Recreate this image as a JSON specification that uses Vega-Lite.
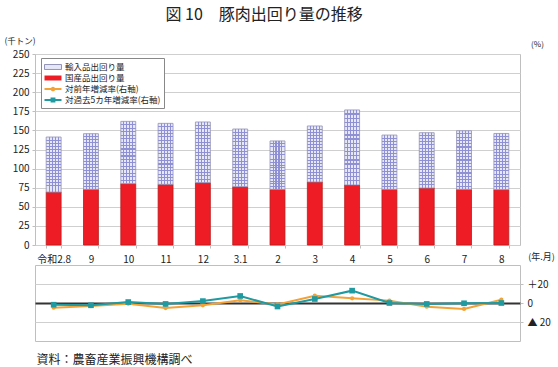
{
  "$schema": "https://vega.github.io/schema/vega-lite/v6.json",
  "padding": {"left": 3, "top": 6, "right": 5, "bottom": 5},
  "background": "white",
  "config": {
    "font": "Noto Sans CJK JP",
    "view": {"stroke": "#bfbfbf"},
    "axis": {"domain": false, "gridColor": "#cfcfcf", "tickColor": "#bfbfbf", "labelColor": "#222", "titleColor": "#222", "titleFontWeight": "normal", "labelFont": "Noto Sans CJK JP", "titleFont": "Noto Sans CJK JP"}
  },
  "title": {"text": "図 10　豚肉出回り量の推移", "fontSize": 16, "fontWeight": "normal", "color": "#222", "anchor": "middle", "dx": -15, "offset": 13},
  "datasets": {
    "bars": [
      {"month": "令和2.8", "series": "国産品出回り量", "value": 69.3},
      {"month": "令和2.8", "series": "輸入品出回り量", "value": 72.0},
      {"month": "9", "series": "国産品出回り量", "value": 72.9},
      {"month": "9", "series": "輸入品出回り量", "value": 72.8},
      {"month": "10", "series": "国産品出回り量", "value": 80.3},
      {"month": "10", "series": "輸入品出回り量", "value": 81.5},
      {"month": "11", "series": "国産品出回り量", "value": 79.4},
      {"month": "11", "series": "輸入品出回り量", "value": 79.8},
      {"month": "12", "series": "国産品出回り量", "value": 81.6},
      {"month": "12", "series": "輸入品出回り量", "value": 79.4},
      {"month": "3.1", "series": "国産品出回り量", "value": 76.3},
      {"month": "3.1", "series": "輸入品出回り量", "value": 75.5},
      {"month": "2", "series": "国産品出回り量", "value": 72.9},
      {"month": "2", "series": "輸入品出回り量", "value": 63.3},
      {"month": "3", "series": "国産品出回り量", "value": 82.5},
      {"month": "3", "series": "輸入品出回り量", "value": 73.3},
      {"month": "4", "series": "国産品出回り量", "value": 78.6},
      {"month": "4", "series": "輸入品出回り量", "value": 98.2},
      {"month": "5", "series": "国産品出回り量", "value": 72.9},
      {"month": "5", "series": "輸入品出回り量", "value": 71.0},
      {"month": "6", "series": "国産品出回り量", "value": 74.6},
      {"month": "6", "series": "輸入品出回り量", "value": 72.4},
      {"month": "7", "series": "国産品出回り量", "value": 72.9},
      {"month": "7", "series": "輸入品出回り量", "value": 76.7},
      {"month": "8", "series": "国産品出回り量", "value": 72.5},
      {"month": "8", "series": "輸入品出回り量", "value": 73.5}
    ],
    "rates": [
      {"month": "令和2.8", "yoy": -4.9, "five": -1.8},
      {"month": "9", "yoy": -3.2, "five": -2.4},
      {"month": "10", "yoy": -0.7, "five": 1.0},
      {"month": "11", "yoy": -5.3, "five": -1.0},
      {"month": "12", "yoy": -2.4, "five": 2.0},
      {"month": "3.1", "yoy": 2.8, "five": 7.4},
      {"month": "2", "yoy": -1.5, "five": -3.7},
      {"month": "3", "yoy": 7.7, "five": 4.2},
      {"month": "4", "yoy": 4.9, "five": 13.0},
      {"month": "5", "yoy": 2.5, "five": 0.0},
      {"month": "6", "yoy": -3.9, "five": -1.0},
      {"month": "7", "yoy": -6.3, "five": -0.3},
      {"month": "8", "yoy": 3.5, "five": 0.0}
    ]
  },
  "bounds": "flush",
  "spacing": 20,
  "resolve": {"scale": {"x": "independent", "color": "independent", "shape": "independent"}, "legend": {"color": "independent", "shape": "independent"}},
  "vconcat": [
    {
      "width": 485,
      "height": 191,
      "data": {"name": "bars"},
      "encoding": {
        "x": {"field": "month", "type": "ordinal", "sort": null, "scale": {"paddingInner": 0.6, "paddingOuter": 0.3},
          "axis": {"title": "(年.月)", "titleX": 506, "titleY": 11, "titleAlign": "center", "titleBaseline": "middle", "titleFontSize": 9, "labelAngle": 0, "labelFontSize": 10, "labelPadding": 6, "tickSize": 3, "tickBand": "extent", "grid": false}},
        "y": {"field": "value", "type": "quantitative", "stack": "zero", "scale": {"domain": [0, 250], "nice": false},
          "axis": {"values": [0, 25, 50, 75, 100, 125, 150, 175, 200, 225, 250], "title": "(千トン)", "titleAngle": 0, "titleX": -31, "titleY": -14, "titleAlign": "left", "titleBaseline": "middle", "titleFontSize": 8.5, "labelFontSize": 10, "tickSize": 3, "labelPadding": 3}}
      },
      "layer": [
        {
          "mark": {"type": "bar", "strokeWidth": 0.8},
          "encoding": {
            "color": {"field": "series", "type": "nominal",
              "scale": {"domain": ["輸入品出回り量", "国産品出回り量", "対前年増減率(右軸)", "対過去5カ年増減率(右軸)"], "range": ["#e6e7f7", "#ee1c24", "#f4a236", "#1e9aa0"]},
              "legend": {"orient": "none", "legendX": 6, "legendY": 4, "title": null, "padding": 3, "strokeColor": "#888", "fillColor": "white", "symbolSize": 121, "labelFontSize": 8.5, "labelOffset": 9, "rowPadding": 0, "labelColor": "#222", "labelFont": "Noto Sans CJK JP", "symbolStrokeWidth": 0.8,
                "encode": {"symbols": {"update": {"opacity": {"value": 1}, "stroke": {"signal": "datum.value === '輸入品出回り量' ? '#7a7aa6' : 'transparent'"}}}}}},
            "order": {"field": "series", "sort": "ascending"},
            "stroke": {"condition": {"test": "datum.series === '輸入品出回り量'", "value": "#9090b0"}, "value": "#b81c1c"}
          }
        },
        {
          "mark": {"type": "bar", "strokeWidth": 0},
          "encoding": {
            "detail": {"field": "series"},
            "order": {"field": "series", "sort": "ascending"},
            "fill": {"condition": {"test": "datum.series === '輸入品出回り量'", "value": {"gradient": "linear", "x1": 0, "y1": 0, "x2": 1, "y2": 0, "stops": [
              {"offset": 0, "color": "rgba(143,143,214,0)"},
              {"offset": 0.165, "color": "rgba(143,143,214,0)"}, {"offset": 0.165, "color": "#8f8fd6"}, {"offset": 0.235, "color": "#8f8fd6"}, {"offset": 0.235, "color": "rgba(143,143,214,0)"},
              {"offset": 0.365, "color": "rgba(143,143,214,0)"}, {"offset": 0.365, "color": "#8f8fd6"}, {"offset": 0.435, "color": "#8f8fd6"}, {"offset": 0.435, "color": "rgba(143,143,214,0)"},
              {"offset": 0.565, "color": "rgba(143,143,214,0)"}, {"offset": 0.565, "color": "#8f8fd6"}, {"offset": 0.635, "color": "#8f8fd6"}, {"offset": 0.635, "color": "rgba(143,143,214,0)"},
              {"offset": 0.765, "color": "rgba(143,143,214,0)"}, {"offset": 0.765, "color": "#8f8fd6"}, {"offset": 0.835, "color": "#8f8fd6"}, {"offset": 0.835, "color": "rgba(143,143,214,0)"},
              {"offset": 1, "color": "rgba(143,143,214,0)"}]}}, "value": "rgba(0,0,0,0)"}
          }
        },
        {
          "mark": {"type": "bar", "strokeWidth": 0},
          "encoding": {
            "detail": {"field": "series"},
            "order": {"field": "series", "sort": "ascending"},
            "fill": {"condition": {"test": "datum.series === '輸入品出回り量'", "value": {"gradient": "linear", "x1": 0, "y1": 0, "x2": 0, "y2": 1, "stops": [
              {"offset": 0, "color": "rgba(143,143,214,0)"},
              {"offset": 0.0466, "color": "rgba(143,143,214,0)"}, {"offset": 0.0466, "color": "#8f8fd6"}, {"offset": 0.0646, "color": "#8f8fd6"}, {"offset": 0.0646, "color": "rgba(143,143,214,0)"},
              {"offset": 0.1021, "color": "rgba(143,143,214,0)"}, {"offset": 0.1021, "color": "#8f8fd6"}, {"offset": 0.1201, "color": "#8f8fd6"}, {"offset": 0.1201, "color": "rgba(143,143,214,0)"},
              {"offset": 0.1577, "color": "rgba(143,143,214,0)"}, {"offset": 0.1577, "color": "#8f8fd6"}, {"offset": 0.1757, "color": "#8f8fd6"}, {"offset": 0.1757, "color": "rgba(143,143,214,0)"},
              {"offset": 0.2132, "color": "rgba(143,143,214,0)"}, {"offset": 0.2132, "color": "#8f8fd6"}, {"offset": 0.2312, "color": "#8f8fd6"}, {"offset": 0.2312, "color": "rgba(143,143,214,0)"},
              {"offset": 0.2688, "color": "rgba(143,143,214,0)"}, {"offset": 0.2688, "color": "#8f8fd6"}, {"offset": 0.2868, "color": "#8f8fd6"}, {"offset": 0.2868, "color": "rgba(143,143,214,0)"},
              {"offset": 0.3243, "color": "rgba(143,143,214,0)"}, {"offset": 0.3243, "color": "#8f8fd6"}, {"offset": 0.3423, "color": "#8f8fd6"}, {"offset": 0.3423, "color": "rgba(143,143,214,0)"},
              {"offset": 0.3799, "color": "rgba(143,143,214,0)"}, {"offset": 0.3799, "color": "#8f8fd6"}, {"offset": 0.3979, "color": "#8f8fd6"}, {"offset": 0.3979, "color": "rgba(143,143,214,0)"},
              {"offset": 0.4354, "color": "rgba(143,143,214,0)"}, {"offset": 0.4354, "color": "#8f8fd6"}, {"offset": 0.4534, "color": "#8f8fd6"}, {"offset": 0.4534, "color": "rgba(143,143,214,0)"},
              {"offset": 0.491, "color": "rgba(143,143,214,0)"}, {"offset": 0.491, "color": "#8f8fd6"}, {"offset": 0.509, "color": "#8f8fd6"}, {"offset": 0.509, "color": "rgba(143,143,214,0)"},
              {"offset": 0.5466, "color": "rgba(143,143,214,0)"}, {"offset": 0.5466, "color": "#8f8fd6"}, {"offset": 0.5646, "color": "#8f8fd6"}, {"offset": 0.5646, "color": "rgba(143,143,214,0)"},
              {"offset": 0.6021, "color": "rgba(143,143,214,0)"}, {"offset": 0.6021, "color": "#8f8fd6"}, {"offset": 0.6201, "color": "#8f8fd6"}, {"offset": 0.6201, "color": "rgba(143,143,214,0)"},
              {"offset": 0.6577, "color": "rgba(143,143,214,0)"}, {"offset": 0.6577, "color": "#8f8fd6"}, {"offset": 0.6757, "color": "#8f8fd6"}, {"offset": 0.6757, "color": "rgba(143,143,214,0)"},
              {"offset": 0.7132, "color": "rgba(143,143,214,0)"}, {"offset": 0.7132, "color": "#8f8fd6"}, {"offset": 0.7312, "color": "#8f8fd6"}, {"offset": 0.7312, "color": "rgba(143,143,214,0)"},
              {"offset": 0.7688, "color": "rgba(143,143,214,0)"}, {"offset": 0.7688, "color": "#8f8fd6"}, {"offset": 0.7868, "color": "#8f8fd6"}, {"offset": 0.7868, "color": "rgba(143,143,214,0)"},
              {"offset": 0.8243, "color": "rgba(143,143,214,0)"}, {"offset": 0.8243, "color": "#8f8fd6"}, {"offset": 0.8423, "color": "#8f8fd6"}, {"offset": 0.8423, "color": "rgba(143,143,214,0)"},
              {"offset": 0.8799, "color": "rgba(143,143,214,0)"}, {"offset": 0.8799, "color": "#8f8fd6"}, {"offset": 0.8979, "color": "#8f8fd6"}, {"offset": 0.8979, "color": "rgba(143,143,214,0)"},
              {"offset": 0.9354, "color": "rgba(143,143,214,0)"}, {"offset": 0.9354, "color": "#8f8fd6"}, {"offset": 0.9534, "color": "#8f8fd6"}, {"offset": 0.9534, "color": "rgba(143,143,214,0)"},
              {"offset": 1, "color": "rgba(143,143,214,0)"}]}}, "value": "rgba(0,0,0,0)"}
          }
        },
        {
          "mark": {"type": "point", "filled": true, "opacity": 0},
          "encoding": {
            "y": {"field": "value", "type": "quantitative"},
            "color": {"field": "series", "type": "nominal",
              "scale": {"domain": ["輸入品出回り量", "国産品出回り量", "対前年増減率(右軸)", "対過去5カ年増減率(右軸)"], "range": ["#e6e7f7", "#ee1c24", "#f4a236", "#1e9aa0"]},
              "legend": {"orient": "none", "legendX": 6, "legendY": 4, "title": null, "padding": 3, "strokeColor": "#888", "fillColor": "white", "symbolSize": 121, "labelFontSize": 8.5, "labelOffset": 9, "rowPadding": 0, "labelColor": "#222", "labelFont": "Noto Sans CJK JP", "symbolStrokeWidth": 0.8,
                "encode": {"symbols": {"update": {"opacity": {"value": 1}, "stroke": {"signal": "datum.value === '輸入品出回り量' ? '#7a7aa6' : 'transparent'"}}}}}},
            "shape": {"field": "series", "type": "nominal",
              "scale": {"domain": ["輸入品出回り量", "国産品出回り量", "対前年増減率(右軸)", "対過去5カ年増減率(右軸)"],
                "range": ["M-1,-0.45H2.09V0.45H-1Z", "M-1,-0.45H2.09V0.45H-1Z", "M-1,-0.17H2.09V0.17H-1Z M0.125,0A0.42,0.42 0 1,1 0.965,0A0.42,0.42 0 1,1 0.125,0Z", "M-1,-0.17H2.09V0.17H-1Z M0.1,-0.45H0.99V0.45H0.1Z"]},
              "legend": {"orient": "none", "legendX": 6, "legendY": 4, "title": null, "padding": 3, "strokeColor": "#888", "fillColor": "white", "symbolSize": 121, "labelFontSize": 8.5, "labelOffset": 9, "rowPadding": 0, "labelColor": "#222", "labelFont": "Noto Sans CJK JP", "symbolStrokeWidth": 0.8,
                "encode": {"symbols": {"update": {"opacity": {"value": 1}, "stroke": {"signal": "datum.value === '輸入品出回り量' ? '#7a7aa6' : 'transparent'"}}}}}}
          }
        }
      ]
    },
    {
      "width": 485,
      "height": 76,
      "data": {"name": "rates"},
      "transform": [{"fold": ["yoy", "five"], "as": ["series", "rate"]}],
      "encoding": {
        "x": {"field": "month", "type": "ordinal", "sort": null, "scale": {"paddingInner": 0.6, "paddingOuter": 0.3},
          "axis": {"labels": false, "ticks": false, "grid": false, "title": "資料：農畜産業振興機構調べ", "titleX": 1, "titleY": 18, "titleAlign": "left", "titleBaseline": "middle", "titleFontSize": 12}},
        "y": {"field": "rate", "type": "quantitative", "scale": {"domain": [-40, 40], "nice": false},
          "axis": {"orient": "right", "values": [-20, 0, 20], "title": "(%)", "titleAngle": 0, "titleX": 17, "titleY": -221, "titleAlign": "center", "titleBaseline": "middle", "titleFontSize": 8, "labelFontSize": 10, "labelAlign": "left", "tickSize": 3, "labelPadding": 4, "grid": true, "labelOverlap": false, "labelBound": false, "labelFlush": false,
            "gridColor": {"condition": {"test": "datum.value === 0", "value": "#333333"}, "value": "#cfcfcf"},
            "gridWidth": {"condition": {"test": "datum.value === 0", "value": 2}, "value": 1},
            "labelExpr": "datum.value > 0.5 ? '＋' + datum.label : (datum.value < -0.5 ? '▲ ' + abs(datum.value) : '0')"}},
        "color": {"field": "series", "type": "nominal", "scale": {"domain": ["yoy", "five"], "range": ["#f4a236", "#1e9aa0"]}, "legend": null}
      },
      "layer": [
        {
          "mark": {"type": "line", "strokeWidth": 2}
        },
        {
          "mark": {"type": "point", "filled": true, "opacity": 1},
          "encoding": {
            "shape": {"field": "series", "type": "nominal", "scale": {"domain": ["yoy", "five"], "range": ["circle", "square"]}, "legend": null},
            "size": {"field": "series", "type": "nominal", "scale": {"domain": ["yoy", "five"], "range": [18, 32]}, "legend": null}
          }
        }
      ]
    }
  ]
}
